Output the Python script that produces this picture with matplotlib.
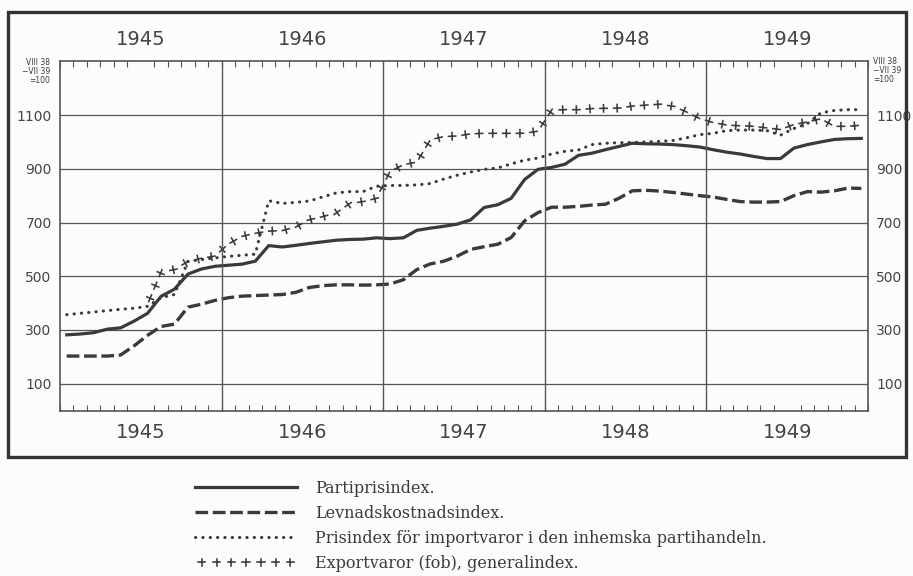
import numpy as np
import matplotlib
matplotlib.use("Agg")
import matplotlib.pyplot as plt
from matplotlib import patheffects
from matplotlib.patches import Rectangle

# index VIII 1938 - VII 1939 = 100, monthly values Jan 1945 - Dec 1949
years = ["1945", "1946", "1947", "1948", "1949"]
yticks = [100, 300, 500, 700, 900, 1100]
labels = [
    "Partiprisindex.",
    "Levnadskostnadsindex.",
    "Prisindex för importvaror i den inhemska partihandeln.",
    "Exportvaror (fob), generalindex.",
]

parti = [282, 285, 290, 303, 308, 333, 362, 425, 452, 508, 527, 537,
         541, 545, 556, 614, 609, 615, 622, 628, 634, 637, 638, 643,
         640, 643, 671, 679, 686, 694, 710, 756, 766, 790, 860, 898,
         905, 917, 950, 958, 971, 983, 995, 993, 992, 990, 986, 981,
         971, 962, 955, 946, 938, 938, 977, 990, 1000, 1009, 1012, 1013]

levnad = [203, 203, 203, 203, 207, 241, 280, 313, 322, 385, 396, 410,
          420, 426, 428, 430, 432, 440, 458, 465, 468, 468, 467, 468,
          471, 487, 525, 546, 556, 575, 600, 610, 619, 644, 706, 737,
          757, 757, 760, 765, 768, 790, 818, 820, 817, 812, 806, 800,
          795, 786, 778, 776, 776, 778, 800, 815, 813, 818, 828, 827]

importpris = [357, 362, 367, 372, 377, 381, 388, 420, 432, 555, 562, 568,
              574, 578, 582, 781, 771, 775, 780, 795, 810, 815, 815, 835,
              838, 838, 840, 845, 862, 876, 888, 898, 903, 918, 932, 940,
              955, 965, 970, 990, 995, 997, 998, 1000, 1002, 1005, 1015, 1027,
              1032, 1042, 1044, 1044, 1042, 1025, 1050, 1068, 1108, 1117, 1120, 1120]

# export index starts July 1945
export_start = 6
export = [395, 515, 525, 555, 567, 575,
          620, 648, 660, 668, 670, 683, 710, 722, 735, 770, 778, 790,
          890, 915, 925, 1008, 1020, 1022, 1030, 1032, 1032, 1032, 1032, 1040,
          1118, 1120, 1120, 1124, 1125, 1126, 1133, 1137, 1140, 1133, 1112, 1087,
          1072, 1063, 1060, 1058, 1052, 1046, 1065, 1074, 1086, 1058, 1058, 1062]

months = np.arange(len(parti)) + 0.5

ink = "#3a3a3a"
gridc = "#555555"
bg = "#fcfcfc"

fig = plt.figure(figsize=(9.13, 5.76), dpi=100)
fig.patch.set_facecolor(bg)
ax = fig.add_axes([60 / 913, 165.4 / 576, 808 / 913, 349.3 / 576])
ax.set_facecolor(bg)
ax.set_xlim(0, 60)
ax.set_ylim(0, 1300)

ax.plot(months, parti, color=ink, lw=2.3, label=labels[0])
ax.plot(months, levnad, color=ink, lw=2.4, linestyle=(0, (3.8, 1.4)),
        label=labels[1])
ax.plot(months, importpris, color=ink, lw=2.2, linestyle=(0, (0.1, 2.3)),
        dash_capstyle="round", label=labels[2])
# "+" marks along the path: four ticks per point (along, across, back, across)
cross = [patheffects.TickedStroke(spacing=9.7, angle=a, length=0.27, linewidth=1.15)
         for a in (0, 90, 180, 270)]
ax.plot(months[export_start:], export, color=ink, lw=1.2, path_effects=cross,
        label=labels[3])

# x axis: years, month ticks, year separators
ax.set_xticks(np.arange(6, 60, 12), labels=years)
ax.set_xticks(np.arange(0, 61), minor=True)
ax.tick_params(axis="x", which="major", length=0, top=True, labeltop=True,
               pad=9, labelsize=14, labelcolor="#444444")
ax.tick_params(axis="x", which="minor", direction="in", length=4, width=0.8,
               top=True, bottom=True, color=gridc)
for b in range(12, 60, 12):
    ax.axvline(b, color=gridc, lw=1.0)

ax.set_yticks(yticks)
ax.tick_params(axis="y", length=0, labelleft=True, labelright=True, pad=6,
               labelsize=10, labelcolor="#444444")
ax.grid(axis="y", color=gridc, lw=0.9)
for s in ax.spines.values():
    s.set_color(gridc)
    s.set_linewidth(1.2)

unit = "VIII 38\n−VII 39\n=100"
ax.text(-0.012, 0.972, unit, transform=ax.transAxes, ha="right", va="center",
        fontsize=5.5, linespacing=1.0, color=ink)
ax.text(1.006, 0.975, unit, transform=ax.transAxes, ha="left", va="center",
        fontsize=5.5, linespacing=1.0, color=ink)

# outer frame
fig.add_artist(Rectangle((8 / 913, 1 - 457 / 576), 898 / 913, 445 / 576,
                         transform=fig.transFigure, fill=False, lw=2.4,
                         ec="#333333"))

fig.legend(loc="upper left", bbox_to_anchor=(195 / 913, 1 - 480 / 576),
           frameon=False, prop={"family": "DejaVu Serif", "size": 11.5},
           handlelength=6.4, handletextpad=1.1, labelspacing=0.5,
           borderpad=0, borderaxespad=0, labelcolor=ink)

fig.savefig("out.png", dpi=100, facecolor=fig.get_facecolor())
